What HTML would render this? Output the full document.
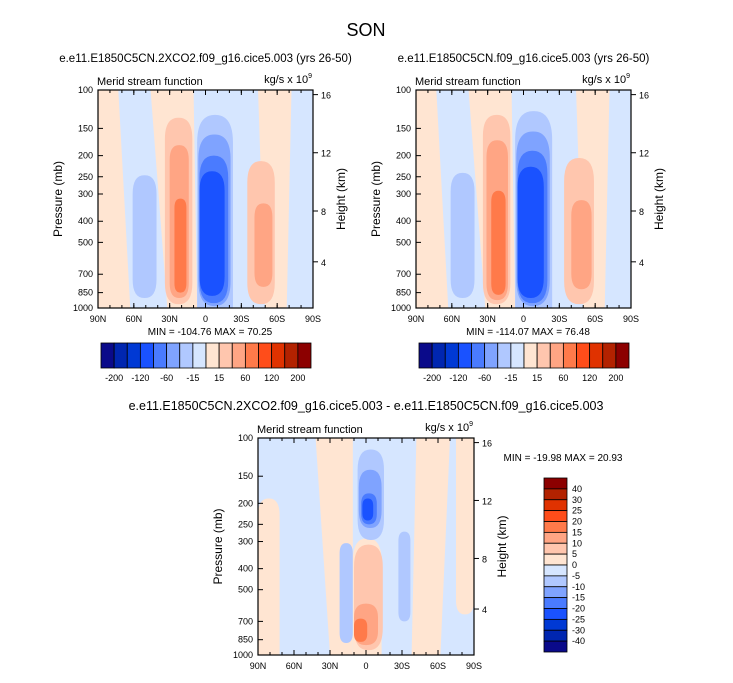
<!DOCTYPE html>
<html><head><meta charset="utf-8"><style>
body{margin:0;background:#fff;font-family:"Liberation Sans",sans-serif}
svg text{font-family:"Liberation Sans",sans-serif}
</style></head><body>
<svg id="c" width="733" height="678" xmlns="http://www.w3.org/2000/svg">
<rect width="733" height="678" fill="#fff"/>
<text x="366" y="36" font-size="18" text-anchor="middle">SON</text>
</svg>
<script>
const colors=["#0a0a8a","#0026b0","#0039d4","#1a52ff","#4a7bff","#7fa3ff","#b0c8ff","#d6e6ff","#ffe5d2","#ffc6ae","#ffa584","#ff7a4a","#ff4d1a","#e03200","#b32200","#8c0000"];
const latTicks=[90,60,30,0,-30,-60,-90];
const latLabels=["90N","60N","30N","0","30S","60S","90S"];
const presTicks=[100,150,200,250,300,400,500,700,850,1000];
const hgtTicks=[16,12,8,4];
const hgtPres=[105,194,359,614];
const cbLabelsTop=["-200","-120","-60","-15","15","60","120","200"];
const cbLabelsBot=["40","30","25","20","15","10","5","0","-5","-10","-15","-20","-25","-30","-40"];
// regions: [latTopL, latTopR, latBotL, latBotR, pTop, pBot, colorIndex]
const regions1=[
 [73,46,63,32,100,1000,7],[10,-44,7,-50,100,1000,7],[-72,-90,-68,-90,100,1000,7],
 [61,41,61,41,246,900,6],
 [34,11,34,11,134,960,9],[30,14,30,14,179,900,10],[26,16,26,16,315,850,11],
 [7,-23,7,-23,130,1000,6],[6,-21,6,-21,160,980,5],[5,-19,5,-19,200,950,4],[5,-16,5,-16,236,880,3],
 [-35,-58,-35,-58,212,960,9],[-41,-56,-41,-56,331,800,10]];
const regions2=[
 [73,46,63,32,100,1000,7],[10,-44,7,-50,100,1000,7],[-72,-90,-68,-90,100,1000,7],
 [61,41,61,41,240,900,6],
 [34,11,34,11,130,960,9],[31,13,31,13,170,920,10],[27,15,27,15,290,870,11],
 [7,-24,7,-24,125,1000,6],[6,-22,6,-22,155,980,5],[5,-20,5,-20,190,950,4],[5,-17,5,-17,225,900,3],
 [-34,-59,-34,-59,205,960,9],[-40,-57,-40,-57,320,820,10]];
const regions3=[
 [90,72,90,72,190,1000,8],[42,11,30,11,100,1000,8],[-42,-70,-38,-62,100,1000,8],[-75,-90,-75,-90,100,650,8],
 [11,-13,11,-13,290,1000,8],
 [7,-15,7,-15,113,295,6],[6,-13,6,-13,140,260,5],[4,-9,4,-9,180,250,4],[3,-6,3,-6,190,240,3],
 [22,11,22,11,305,880,6],[-27,-37,-27,-37,270,700,6],
 [10,-14,10,-14,310,950,9],[10,-10,10,-10,580,900,10],[10,-1,10,-1,680,870,11]];
const S='http://www.w3.org/2000/svg';
const svg=document.getElementById('c');
function mk(t,a,p){const e=document.createElementNS(S,t);for(const k in a)e.setAttribute(k,a[k]);(p||svg).appendChild(e);return e;}
function txt(x,y,s,size,anchor,p){const e=mk('text',{x:x,y:y,'font-size':size,'text-anchor':anchor||'start'},p);e.textContent=s;return e;}
function panel(x0,y0,w,h,bg,regions,title,name,cbOpts){
 const g=mk('g',{});
 
 
 const X=lat=>x0+(90-lat)/180*w;
 const Y=p=>y0+h*Math.log10(p/100);
 const cp='cp'+name;
 const cl=mk('clipPath',{id:cp},g);mk('rect',{x:x0,y:y0,width:w,height:h},cl);
 const pg=mk('g',{'clip-path':'url(#'+cp+')'},g);
 mk('rect',{x:x0,y:y0,width:w,height:h,fill:colors[bg]},pg);
 regions.forEach(r=>{
  const a=[X(r[0]),Y(r[4])],b=[X(r[1]),Y(r[4])],c=[X(r[3]),Y(r[5])],d=[X(r[2]),Y(r[5])];
  const full=r[4]<=100&&r[5]>=1000;
  const rx=Math.min(Math.abs(b[0]-a[0]),Math.abs(c[0]-d[0]))/2.05;
  const ry=Math.min(rx*1.6,(d[1]-a[1])/3);
  const rt=r[4]<=100?0:1, rb=r[5]>=1000?0:1;
  const tx=rx*rt,ty=ry*rt,bx=rx*rb,by=ry*rb;
  const dpath=`M${a[0]+tx},${a[1]} L${b[0]-tx},${b[1]} Q${b[0]},${b[1]} ${b[0]},${b[1]+ty} L${c[0]},${c[1]-by} Q${c[0]},${c[1]} ${c[0]-bx},${c[1]} L${d[0]+bx},${d[1]} Q${d[0]},${d[1]} ${d[0]},${d[1]-by} L${a[0]},${a[1]+ty} Q${a[0]},${a[1]} ${a[0]+tx},${a[1]} Z`;
  const e=mk('path',{d:dpath,fill:colors[r[6]]},pg);
  
  
 });
 mk('rect',{x:x0,y:y0,width:w,height:h,fill:'none',stroke:'#000','stroke-width':1.2},g);
 latTicks.forEach((l,i)=>{const x=X(l);mk('line',{x1:x,x2:x,y1:y0+h,y2:y0+h-5,stroke:'#000'},g);mk('line',{x1:x,x2:x,y1:y0,y2:y0+5,stroke:'#000'},g);
  const t=txt(x,y0+h+14,latLabels[i],9,'middle',g);});
 for(let l=80;l>-90;l-=10){const x=X(l);mk('line',{x1:x,x2:x,y1:y0+h,y2:y0+h-3,stroke:'#000'},g);mk('line',{x1:x,x2:x,y1:y0,y2:y0+3,stroke:'#000'},g);}
 presTicks.forEach(p=>{const y=Y(p);mk('line',{x1:x0,x2:x0+5,y1:y,y2:y,stroke:'#000'},g);
  const t=txt(x0-5,y+3,String(p),9,'end',g);});
 hgtTicks.forEach((k,i)=>{const y=Y(hgtPres[i]);mk('line',{x1:x0+w,x2:x0+w+5,y1:y,y2:y,stroke:'#000'},g);
  const t=txt(x0+w+8,y+4,String(k),9,'start',g);});
 let t=txt(x0-36,y0+h/2,'Pressure (mb)',12,'middle',g);t.setAttribute('transform',`rotate(-90 ${x0-36} ${y0+h/2})`);
 t=txt(x0+w+32,y0+h/2,'Height (km)',12,'middle',g);t.setAttribute('transform',`rotate(-90 ${x0+w+32} ${y0+h/2})`);
 t=txt(x0-1,y0-5,'Merid stream function',11,'start',g);
 t=mk('text',{x:x0+w-1,y:y0-7,'font-size':11,'text-anchor':'end'},g);t.innerHTML='kg/s x 10<tspan font-size="7" dy="-5">9</tspan>';
 t=txt(x0+w/2,y0-28,title,cbOpts.ts,'middle',g);
 if(cbOpts.minmax){t=txt(cbOpts.mx,cbOpts.my,cbOpts.minmax,10,'middle',g);}
}
function hbar(x,y,w,h,labels,name){
 const g=mk('g',{});
 const bw=w/16;
 colors.forEach((c,i)=>{const r=mk('rect',{x:x+i*bw,y:y,width:bw,height:h,fill:c,stroke:'#000','stroke-width':0.8},g);});
 labels.forEach((l,i)=>{const t=txt(x+(1+2*i)*bw,y+h+13,l,9,'middle',g);});
}
function vbar(x,y,w,h,labels,name){
 const g=mk('g',{});
 const bh=h/16;
 colors.slice().reverse().forEach((c,i)=>{const r=mk('rect',{x:x,y:y+i*bh,width:w,height:bh,fill:c,stroke:'#000','stroke-width':0.8},g);});
 labels.forEach((l,i)=>{const t=txt(x+w+5,y+(i+1)*bh+3,l,9,'start',g);});
}
panel(98,90,215,218,8,regions1,'e.e11.E1850C5CN.2XCO2.f09_g16.cice5.003 (yrs 26-50)','panel-2xco2',{minmax:'MIN = -104.76  MAX =  70.25',mx:210,my:335,ts:11.5});
panel(416,90,215,218,8,regions2,'e.e11.E1850C5CN.f09_g16.cice5.003 (yrs 26-50)','panel-control',{minmax:'MIN = -114.07  MAX =  76.48',mx:528,my:335,ts:11.5});
panel(258,438,216,217,7,regions3,'e.e11.E1850C5CN.2XCO2.f09_g16.cice5.003 - e.e11.E1850C5CN.f09_g16.cice5.003','panel-difference',{minmax:'MIN = -19.98  MAX =  20.93',mx:563,my:461,ts:12.5});
hbar(101,343,210,25,cbLabelsTop,'colorbar-top-left');
hbar(419,343,210,25,cbLabelsTop,'colorbar-top-right');
vbar(544,478,23,174,cbLabelsBot,'colorbar-difference');
</script>
</body></html>
